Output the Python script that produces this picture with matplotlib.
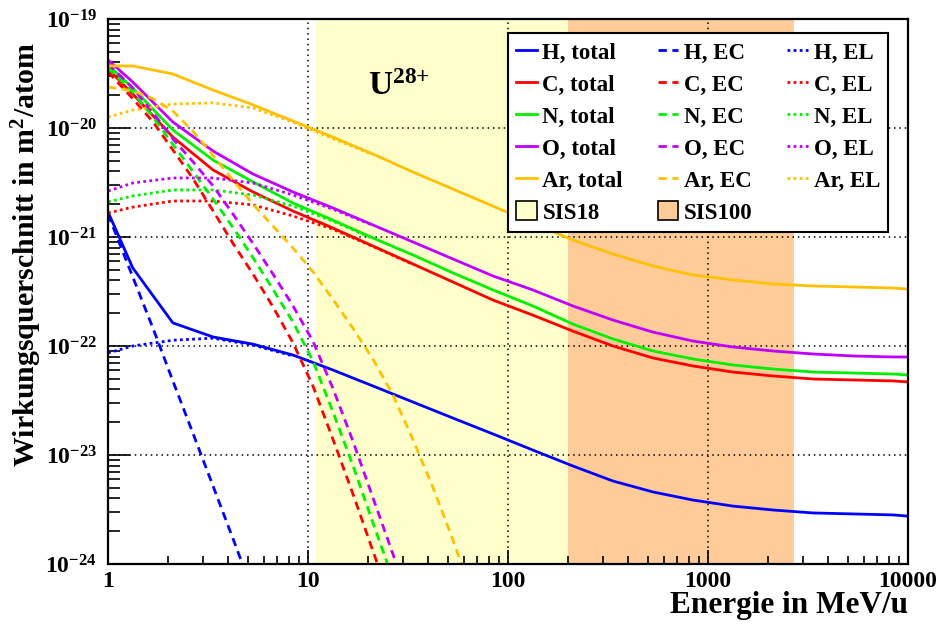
import numpy as np
import matplotlib.pyplot as plt
from matplotlib.lines import Line2D
from matplotlib.patches import Patch
from matplotlib.ticker import LogLocator, FuncFormatter, NullFormatter

plt.rcParams['font.family'] = 'Liberation Serif'
plt.rcParams['font.weight'] = 'bold'
plt.rcParams['axes.labelweight'] = 'bold'
plt.rcParams['mathtext.fontset'] = 'custom'
plt.rcParams['mathtext.rm'] = 'Liberation Serif:bold'
plt.rcParams['mathtext.bf'] = 'Liberation Serif:bold'
plt.rcParams['mathtext.it'] = 'Liberation Serif:bold'
plt.rcParams['mathtext.default'] = 'rm'

# energy grids in MeV/u
energy = [1.0, 1.33, 2.11, 3.35, 5.31, 8.41, 13.3, 21.1, 33.5, 53.1, 84.1,
          133, 211, 335, 531, 841, 1330, 2110, 3350, 5310, 8410, 10000]
energy_ec = [1.0, 1.33, 1.68, 2.11, 2.66, 3.35, 4.22, 5.31, 6.68, 8.41, 10.6,
             13.3, 16.8, 21.1, 26.6, 33.5, 42.2, 53.1, 66.8]

# cross sections in m^2/atom (total, electron capture EC, electron loss EL)
h_total = [1.70e-21, 5.2e-22, 1.63e-22, 1.21e-22, 1.04e-22, 8.26e-23, 6.03e-23, 4.30e-23,
           3.06e-23, 2.18e-23, 1.56e-23, 1.11e-23, 7.93e-24, 5.77e-24, 4.58e-24, 3.86e-24,
           3.40e-24, 3.13e-24, 2.94e-24, 2.88e-24, 2.82e-24, 2.75e-24]
c_total = [3.48e-20, 2.05e-20, 8.26e-21, 4.12e-21, 2.59e-21, 1.73e-21, 1.21e-21, 8.26e-22,
           5.65e-22, 3.86e-22, 2.64e-22, 1.92e-22, 1.37e-22, 1.0e-22, 7.76e-23, 6.56e-23,
           5.77e-23, 5.31e-23, 4.98e-23, 4.88e-23, 4.78e-23, 4.68e-23]
n_total = [3.78e-20, 2.33e-20, 9.59e-21, 5.08e-21, 3.20e-21, 2.05e-21, 1.43e-21, 9.8e-22,
           6.84e-22, 4.68e-22, 3.27e-22, 2.33e-22, 1.59e-22, 1.16e-22, 9.0e-23, 7.6e-23,
           6.7e-23, 6.15e-23, 5.77e-23, 5.65e-23, 5.53e-23, 5.42e-23]
o_total = [4.21e-20, 2.64e-20, 1.135e-20, 6.15e-21, 3.78e-21, 2.59e-21, 1.85e-21, 1.29e-21,
           9.0e-22, 6.28e-22, 4.39e-22, 3.27e-22, 2.33e-22, 1.73e-22, 1.34e-22, 1.11e-22,
           9.8e-23, 9.0e-23, 8.45e-23, 8.1e-23, 7.93e-23, 7.93e-23]
ar_total = [3.71e-20, 3.71e-20, 3.13e-20, 2.23e-20, 1.63e-20, 1.16e-20, 8.26e-21, 5.77e-21,
            3.94e-21, 2.75e-21, 1.92e-21, 1.34e-21, 9.38e-22, 6.98e-22, 5.42e-22, 4.48e-22,
            4.04e-22, 3.71e-22, 3.55e-22, 3.48e-22, 3.40e-22, 3.33e-22]

h_ec = [1.62e-21, 4.30e-22, 1.45e-22, 4.78e-23, 1.58e-23, 5.2e-24, 1.70e-24, 5.5e-25]
c_ec = [3.27e-20, 1.86e-20, 1.135e-20, 6.3e-21, 3.43e-21, 1.74e-21, 8.71e-22, 4.57e-22,
        2.29e-22, 1.07e-22, 4.27e-23, 1.41e-23, 4.37e-24, 1.32e-24, 3.98e-25]
n_ec = [3.55e-20, 2.14e-20, 1.26e-20, 7.08e-21, 3.98e-21, 2.24e-21, 1.22e-21, 6.46e-22,
        3.31e-22, 1.66e-22, 7.24e-23, 2.51e-23, 7.94e-24, 2.40e-24, 7.24e-25]
o_ec = [3.89e-20, 2.33e-20, 1.38e-20, 7.94e-21, 4.90e-21, 2.95e-21, 1.62e-21, 8.71e-22,
        4.57e-22, 2.34e-22, 1.10e-22, 4.12e-23, 1.33e-23, 4.07e-24, 1.23e-24, 3.72e-25]
ar_ec = [2.38e-20, 2.19e-20, 1.86e-20, 1.43e-20, 9.33e-21, 5.62e-21, 3.31e-21, 2.0e-21,
         1.26e-21, 7.94e-22, 4.79e-22, 2.69e-22, 1.45e-22, 7.59e-23, 3.55e-23, 1.38e-23,
         5.01e-24, 1.66e-24, 5.0e-25]

h_el = [8.63e-23, 1.0e-22, 1.13e-22, 1.18e-22, 1.02e-22, 8.1e-23]
c_el = [1.66e-21, 1.88e-21, 2.14e-21, 2.14e-21, 1.97e-21, 1.56e-21, 1.18e-21, 8.2e-22, 5.6e-22]
n_el = [2.10e-21, 2.38e-21, 2.70e-21, 2.70e-21, 2.43e-21, 1.92e-21, 1.40e-21, 9.7e-22]
o_el = [2.64e-21, 3.13e-21, 3.48e-21, 3.48e-21, 3.13e-21, 2.43e-21, 1.80e-21, 1.28e-21]
ar_el = [1.26e-20, 1.46e-20, 1.66e-20, 1.70e-20, 1.53e-20, 1.13e-20, 8.0e-21, 5.7e-21]

targets = ["H", "C", "N", "O", "Ar"]
colors = ["#0000ff", "#ff0000", "#00f000", "#c000ff", "#ffc000"]
totals = [h_total, c_total, n_total, o_total, ar_total]
ecs = [h_ec, c_ec, n_ec, o_ec, ar_ec]
els = [h_el, c_el, n_el, o_el, ar_el]

# accelerator ranges in MeV/u
sis18 = (11, 200)
sis100 = (200, 2700)

xticks = [1, 10, 100, 1000, 10000]
yticks = [1e-24, 1e-23, 1e-22, 1e-21, 1e-20, 1e-19]

dashed = (0, (3, 2))
dotted = (0, (1, 1.2))

fig = plt.figure(figsize=(9.42, 6.28), dpi=100)
ax = fig.add_axes([108/942, 1-564/628, 800/942, 545/628])
ax.set_xscale('log')
ax.set_yscale('log')
ax.set_xlim(1, 1e4)
ax.set_ylim(1e-24, 1e-19)

ax.axvspan(*sis18, color='#ffffcc', lw=0, zorder=0)
ax.axvspan(*sis100, color='#ffcc99', lw=0, zorder=0)

for col, tot, ec, el in zip(colors, totals, ecs, els):
    ax.plot(energy_ec[:len(ec)], ec, color=col, lw=2, ls=dashed)
    ax.plot(energy[:len(el)], el, color=col, lw=2, ls=dotted)
    ax.plot(energy, tot, color=col, lw=2)

ax.set_xticks(xticks)
ax.set_yticks(yticks)
ax.grid(True, which='major', color='k', ls=(0, (1, 2.5)), lw=1.1)

ax.yaxis.set_minor_locator(LogLocator(base=10, subs=np.arange(2, 10), numticks=100))
ax.xaxis.set_minor_locator(LogLocator(base=10, subs=np.arange(2, 10), numticks=100))
ax.yaxis.set_minor_formatter(NullFormatter())
ax.xaxis.set_minor_formatter(NullFormatter())
ax.yaxis.set_major_formatter(FuncFormatter(lambda v, p: r'$10^{%d}$' % round(np.log10(v))))
ax.xaxis.set_major_formatter(FuncFormatter(lambda v, p: '%d' % v))

ax.tick_params(which='both', direction='in', top=False, right=False, labelsize=17, width=1.2)
ax.yaxis.set_tick_params(which='major', length=16, pad=8)
ax.yaxis.set_tick_params(which='minor', length=8.5)
ax.xaxis.set_tick_params(which='major', length=10, pad=5)
ax.xaxis.set_tick_params(which='minor', length=5.5)
for s in ax.spines.values():
    s.set_linewidth(1.6)

ax.set_ylabel(r'Wirkungsquerschnitt in m$^2$/atom', fontsize=21.5)
ax.yaxis.set_label_coords(-0.08, 0.567)
ax.set_xlabel('Energie in MeV/u', fontsize=22.5, loc='right')
ax.xaxis.set_label_coords(1.0, -0.05)

ax.text(28.5, 2.01e-20, r'U$^{28{+}}$', fontsize=24, ha='center', va='baseline')

# legend filled column by column: totals, EC, EL
handles = [Line2D([], [], color=c, lw=2) for c in colors]
handles.append(Patch(facecolor='#ffffcc', edgecolor='k', lw=1.2))
handles += [Line2D([], [], color=c, lw=2, ls=dashed) for c in colors]
handles.append(Patch(facecolor='#ffcc99', edgecolor='k', lw=1.2))
handles += [Line2D([], [], color=c, lw=2, ls=dotted) for c in colors]
handles.append(Line2D([], [], alpha=0))
labels = [t + ", total" for t in targets] + ["SIS18"]
labels += [t + ", EC" for t in targets] + ["SIS100"]
labels += [t + ", EL" for t in targets] + [""]

leg = ax.legend(handles, labels, ncol=3, loc='upper left', mode='expand',
                bbox_to_anchor=(0.5, 0.626, 0.475, 0.348), borderaxespad=0,
                fontsize=16.5, handlelength=0.9, handleheight=0.9, handletextpad=0.25,
                columnspacing=1.0, labelspacing=0.42, borderpad=0.35,
                fancybox=False, framealpha=1, edgecolor='k')
leg.get_frame().set_linewidth(1.5)

fig.savefig('out.png', dpi=100)
